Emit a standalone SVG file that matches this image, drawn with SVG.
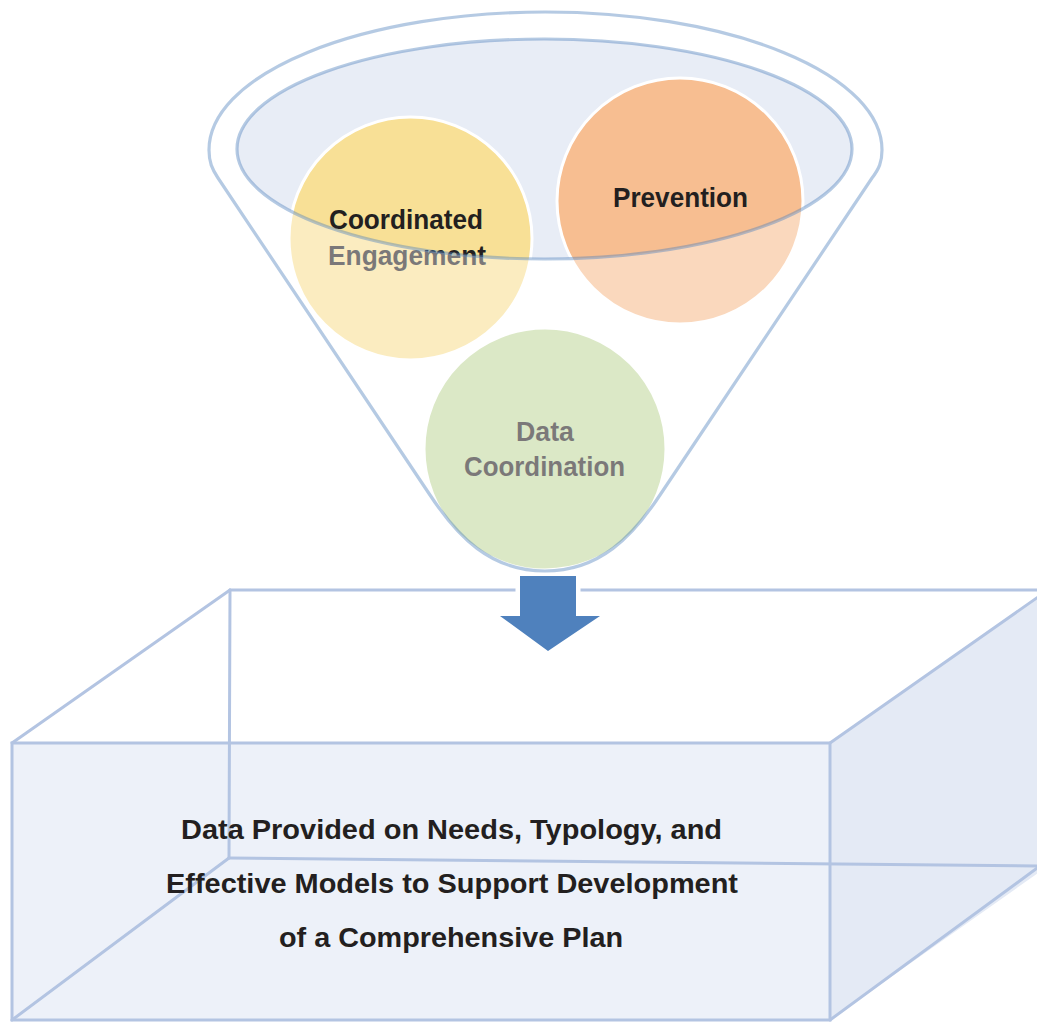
<svg xmlns="http://www.w3.org/2000/svg" width="1037" height="1022" viewBox="0 0 1037 1022">
<style>
.edge{fill:none;stroke:#b3c4e2;stroke-width:3;stroke-linecap:round}
.rim{fill:none;stroke:#4f81bd;stroke-opacity:0.42;stroke-width:3.2}
.lbl{font-family:"Liberation Sans Narrow","Liberation Sans",Arial,sans-serif;font-weight:bold;font-size:28px;fill:#231f20}
.ball{stroke:#ffffff;stroke-width:3}
</style>
<rect width="1037" height="1022" fill="#ffffff"/>
<g id="box">
<polygon points="830,743 1048,590 1048,866 830,1020" fill="#e4eaf5"/>
<rect x="12" y="743" width="818" height="277" fill="#edf1f9"/>
<line class="edge" x1="230" y1="590" x2="1048" y2="590"/>
<line class="edge" x1="230" y1="590" x2="229" y2="858"/>
<line class="edge" x1="229" y1="858" x2="1040" y2="866"/>
<line class="edge" x1="12" y1="743" x2="230" y2="590"/>
<line class="edge" x1="12" y1="1020" x2="229" y2="858"/>
<line class="edge" x1="830" y1="743" x2="1048" y2="590"/>
<line class="edge" x1="830" y1="1020" x2="1040" y2="866"/>
<rect class="edge" x="12" y="743" width="818" height="277"/>
<text class="lbl" x="181" y="839" textLength="541" lengthAdjust="spacingAndGlyphs">Data Provided on Needs, Typology, and</text>
<text class="lbl" x="166" y="893" textLength="572" lengthAdjust="spacingAndGlyphs">Effective Models to Support Development</text>
<text class="lbl" x="279" y="947" textLength="344" lengthAdjust="spacingAndGlyphs">of a Comprehensive Plan</text>
</g>
<g id="funnel-rim-fill">
<ellipse cx="544.5" cy="149" rx="307.5" ry="110" fill="#e8edf6"/>
</g>
<g id="node-coordinated-engagement">
<circle class="ball" cx="410.5" cy="238.5" r="121.5" fill="#f8e096"/>
<text class="lbl" x="329" y="229" textLength="154" lengthAdjust="spacingAndGlyphs">Coordinated</text>
<text class="lbl" x="328" y="265" textLength="158" lengthAdjust="spacingAndGlyphs">Engagement</text>
</g>
<g id="node-prevention">
<circle class="ball" cx="680" cy="201" r="123" fill="#f7be91"/>
<text class="lbl" x="613" y="207" textLength="135" lengthAdjust="spacingAndGlyphs">Prevention</text>
</g>
<g id="node-data-coordination">
<circle class="ball" cx="545" cy="449" r="121" fill="#c3d9a0"/>
<text class="lbl" x="516" y="441" textLength="58" lengthAdjust="spacingAndGlyphs">Data</text>
<text class="lbl" x="464" y="476" textLength="161" lengthAdjust="spacingAndGlyphs">Coordination</text>
</g>
<g id="funnel-veil">
<path fill="#ffffff" fill-opacity="0.4" fill-rule="evenodd" d="M209,150 A336.5,138 0 0 1 882,150 C882,162 879,169 872,178 L662,492 C633,536 600,569 545,569 C490,569 457,536 428,492 L218,178 C212,169 209,162 209,150 Z M237,149 A307.5,110 0 0 0 852,149 A307.5,110 0 0 0 237,149 Z"/>
</g>
<g id="connectors">
<polygon points="520,576 576,576 576,616 600,616 548,651 500,616 520,616" fill="#4f81bd" stroke="#ffffff" stroke-width="9" stroke-linejoin="miter" paint-order="stroke"/>
</g>
<g id="funnel">
<path class="rim" d="M209,150 A336.5,138 0 0 1 882,150 C882,162 879,169 872,178 L660,495 C633,536 600,571 545,571 C490,571 457,536 430,495 L218,178 C212,169 209,162 209,150 Z"/>
<ellipse class="rim" cx="544.5" cy="149" rx="307.5" ry="110"/>
</g>
</svg>
